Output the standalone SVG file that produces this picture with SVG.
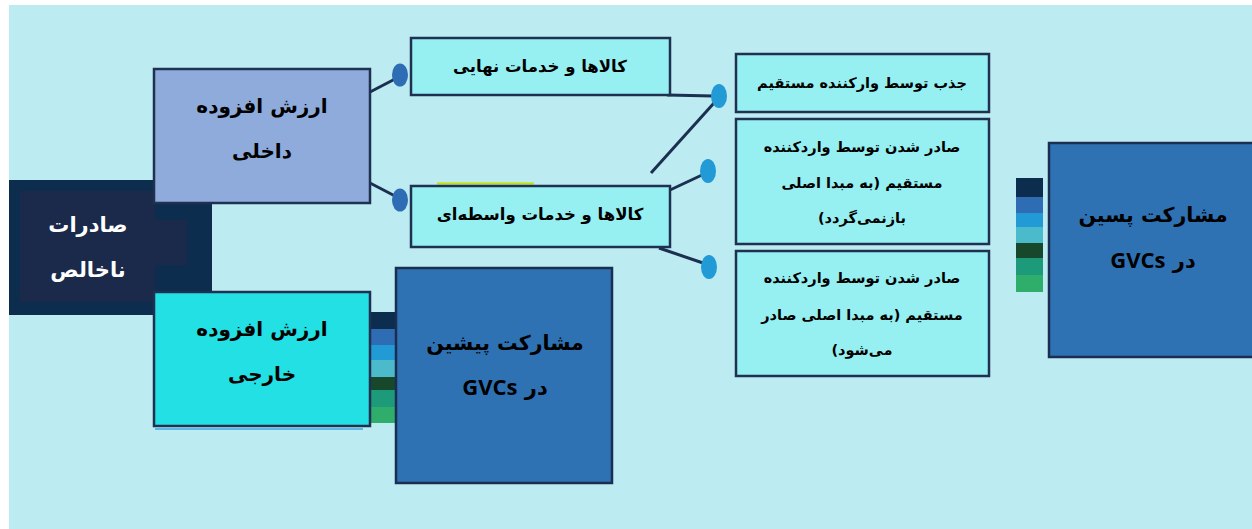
<svg xmlns="http://www.w3.org/2000/svg" width="1252" height="529" viewBox="0 0 1252 529">
<style>
.t{font-family:"DejaVu Sans","Open Sans",sans-serif;font-weight:bold;text-anchor:middle;direction:rtl;fill:#000}
.w{fill:#fff}
.lat{font-family:"Open Sans","DejaVu Sans",sans-serif}
.lb{fill:#96F0F2;stroke:#1F3050;stroke-width:2.5}
.gv{fill:#2E72B4;stroke:#1B2E50;stroke-width:2.5}
.ln{stroke:#1B3050;stroke-width:3;fill:none}
.d1{fill:#2E6DB4}
.d2{fill:#229AD6}
</style>
<rect x="0" y="0" width="1252" height="529" fill="#ffffff"/>
<rect x="9" y="5" width="1243" height="524" fill="#BDEBF2"/>

<g id="connectors">
<line class="ln" x1="370" y1="92" x2="395" y2="79"/>
<line class="ln" x1="370" y1="183" x2="395" y2="196"/>
<line class="ln" x1="667" y1="95" x2="713" y2="96"/>
<line class="ln" x1="651" y1="173" x2="714" y2="103"/>
<line class="ln" x1="670" y1="190" x2="702" y2="175"/>
<line class="ln" x1="659" y1="248" x2="703" y2="263"/>
<ellipse class="d1" cx="400" cy="75" rx="8" ry="11.5"/>
<ellipse class="d1" cx="400" cy="200" rx="8" ry="11.5"/>
<ellipse class="d2" cx="719" cy="96" rx="8" ry="12"/>
<ellipse class="d2" cx="708" cy="171" rx="8" ry="12"/>
<ellipse class="d2" cx="709" cy="267" rx="8" ry="12"/>
</g>

<g id="gross-exports">
<rect x="9" y="180" width="203" height="135" fill="#0D2D4F"/>
<rect x="20" y="191" width="135" height="111" fill="#1B2A4A"/>
<rect x="155" y="220" width="32" height="45" fill="#1B2A4A"/>
<text class="t w" x="88" y="232" font-size="21">صادرات</text>
<text class="t w" x="88" y="277" font-size="21">ناخالص</text>
</g>

<g id="domestic-va">
<rect x="154" y="69" width="216" height="134" fill="#8FABDC" stroke="#1F3050" stroke-width="2.5"/>
<text class="t" x="262" y="113" font-size="20">ارزش افزوده</text>
<text class="t" x="262" y="158" font-size="20">داخلی</text>
</g>

<g id="strip-left">
<rect x="370" y="312" width="25" height="17" fill="#0D2D4F"/>
<rect x="370" y="329" width="25" height="16" fill="#2E6DB4"/>
<rect x="370" y="345" width="25" height="15" fill="#229AD6"/>
<rect x="370" y="360" width="25" height="17" fill="#4BBBCB"/>
<rect x="370" y="377" width="25" height="13" fill="#18482B"/>
<rect x="370" y="390" width="25" height="17" fill="#1D9A7A"/>
<rect x="370" y="407" width="25" height="16" fill="#2EAE6A"/>
</g>

<g id="foreign-va">
<rect x="155" y="428" width="208" height="2" fill="#5FB6E6"/>
<rect x="154" y="292" width="216" height="134" fill="#22E0E3" stroke="#1F3050" stroke-width="2.5"/>
<text class="t" x="262" y="336" font-size="20">ارزش افزوده</text>
<text class="t" x="262" y="381" font-size="20">خارجی</text>
</g>

<g id="backward">
<rect class="gv" x="396" y="268" width="216" height="215"/>
<text class="t" x="505" y="350" font-size="20.5">مشارکت پیشین</text>
<text class="t" x="505" y="395" font-size="21">در <tspan class="lat" font-size="22">GVCs</tspan></text>
</g>

<g id="final-goods">
<rect class="lb" x="411" y="38" width="259" height="57"/>
<text class="t" x="540" y="72" font-size="16.5">کالاها و خدمات نهایی</text>
</g>

<g id="intermediate-goods">
<line x1="437" y1="183.5" x2="534" y2="183.5" stroke="#C8E000" stroke-width="2"/>
<rect class="lb" x="411" y="186" width="259" height="61"/>
<text class="t" x="540" y="220" font-size="16.5">کالاها و خدمات واسطه‌ای</text>
</g>

<g id="absorbed">
<rect class="lb" x="736" y="54" width="253" height="58"/>
<text class="t" x="862" y="88" font-size="14.5">جذب توسط وارکننده مستقیم</text>
</g>

<g id="re-exported-third">
<rect class="lb" x="736" y="119" width="253" height="125"/>
<text class="t" x="862" y="152" font-size="14.5">صادر شدن توسط واردکننده</text>
<text class="t" x="862" y="188" font-size="14.5">مستقیم (به مبدا اصلی</text>
<text class="t" x="862" y="223" font-size="14.5">بازنمی‌گردد)</text>
</g>

<g id="re-exported-origin">
<rect class="lb" x="736" y="251" width="253" height="125"/>
<text class="t" x="862" y="283" font-size="14.5">صادر شدن توسط واردکننده</text>
<text class="t" x="862" y="320" font-size="14.5">مستقیم (به مبدا اصلی صادر</text>
<text class="t" x="862" y="355" font-size="14.5">می‌شود)</text>
</g>

<g id="strip-right">
<rect x="1016" y="178" width="27" height="19" fill="#0D2D4F"/>
<rect x="1016" y="197" width="27" height="16" fill="#2E6DB4"/>
<rect x="1016" y="213" width="27" height="14" fill="#229AD6"/>
<rect x="1016" y="227" width="27" height="16" fill="#4BBBCB"/>
<rect x="1016" y="243" width="27" height="15" fill="#18482B"/>
<rect x="1016" y="258" width="27" height="17" fill="#1D9A7A"/>
<rect x="1016" y="275" width="27" height="17" fill="#2EAE6A"/>
</g>

<g id="forward">
<rect class="gv" x="1049" y="143" width="215" height="214"/>
<text class="t" x="1153" y="222" font-size="20.5">مشارکت پسین</text>
<text class="t" x="1153" y="268" font-size="21">در <tspan class="lat" font-size="22">GVCs</tspan></text>
</g>
</svg>
